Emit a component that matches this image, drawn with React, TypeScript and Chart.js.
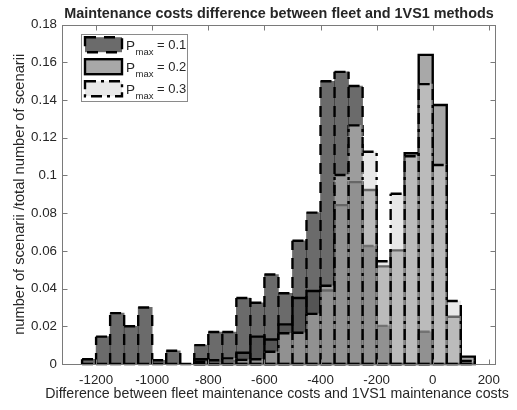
import React, { useEffect, useRef } from 'react';
import { Chart, registerables } from 'chart.js';

Chart.register(...registerables);

const FONT = "'Liberation Sans', Arial, Helvetica, sans-serif";
const TEXT = '#262626';

// Histogram bin centres (bin width 50)
const binCenters = [
  -1225, -1175, -1125, -1075, -1025, -975, -925, -875, -825, -775,
  -725, -675, -625, -575, -525, -475, -425, -375, -325, -275,
  -225, -175, -125, -75, -25, 25, 75, 125,
];

// Relative frequencies (null = no bar)
const pmax01 = [
  0.0025, 0.0145, 0.027, 0.02, 0.03, 0.002, 0.007, 0, 0.01, 0.017,
  0.017, 0.035, 0.0325, 0.0475, 0.0375, 0.0654, 0.0803, 0.15, 0.155, 0.1475,
  0.0626, 0.0202, 0, 0, 0.0171, null, null, null,
];
const pmax02 = [
  null, null, null, null, null, null, null, null, 0.0025, 0.0015,
  0.0015, 0.006, 0.0145, 0.013, 0.021, 0.035, 0.0387, 0.039, 0.0843, 0.0965,
  0.0923, 0.0518, 0.0603, 0.1118, 0.164, 0.1374, 0.0251, 0.0039,
];
const pmax03 = [
  null, null, null, null, null, null, null, null, 0.0012, 0.002,
  0.003, 0.0022, 0.0025, 0.0065, 0.0163, 0.0166, 0.0266, 0.0415, 0.1003, 0.1266,
  0.1126, 0.0545, 0.0903, 0.1102, 0.1485, 0.1056, 0.0334, 0.0016,
];

const seriesValues = ['0.1', '0.2', '0.3'];
const seriesData = [pmax01, pmax02, pmax03];

const TITLE = 'Maintenance costs difference between fleet and 1VS1 methods';
const X_TITLE = 'Difference between fleet maintenance costs and 1VS1 maintenance costs';
const Y_TITLE = 'number of scenarii /total number of scenarii';

const styles = [
  { fill: 'rgba(0,0,0,0.58)', dash: [11, 8], order: 3 },
  { fill: 'rgba(58,58,58,0.44)', dash: [] as number[], order: 2 },
  { fill: 'rgba(208,208,208,0.49)', dash: [11, 5, 3, 5], order: 1 },
];

const LINE_W = 2.4;

const outlinePlugin = {
  id: 'barOutline',
  afterDatasetDraw(chart: any, args: any) {
    const ds = chart.data.datasets[args.index];
    const { ctx, chartArea: a } = chart;
    const dash: number[] = ds.dashPattern || [];
    ctx.save();
    ctx.beginPath();
    ctx.rect(a.left, a.top - 3, a.right - a.left, a.bottom - a.top + 6);
    ctx.clip();
    ctx.strokeStyle = '#000';
    ctx.lineWidth = LINE_W;
    ctx.setLineDash(dash);
    ctx.beginPath();
    for (const el of args.meta.data) {
      const { x, y, base, width } = el.getProps(['x', 'y', 'base', 'width'], true);
      const l = x - width / 2;
      const r = x + width / 2;
      if (dash.length === 0) {
        ctx.rect(l, y, r - l, base - y);
      } else {
        ctx.moveTo(l, base); ctx.lineTo(l, y);
        ctx.moveTo(r, base); ctx.lineTo(r, y);
        ctx.moveTo(l, y); ctx.lineTo(r, y);
        ctx.moveTo(l, base); ctx.lineTo(r, base);
      }
    }
    ctx.stroke();
    ctx.restore();
  },
};

const axesPlugin = {
  id: 'matlabAxes',
  afterDatasetsDraw(chart: any) {
    const { ctx, chartArea: a, scales } = chart;
    ctx.save();
    ctx.setLineDash([]);
    ctx.strokeStyle = '#7a7a7a';
    ctx.lineWidth = 1;
    const L = Math.round(a.left) - 0.5;
    const R = Math.round(a.right) + 0.5;
    const T = Math.round(a.top) + 0.5;
    const B = Math.round(a.bottom) + 0.5;
    ctx.strokeRect(L, T, R - L, B - T);
    ctx.beginPath();
    const tl = 5;
    for (const t of scales.x.ticks) {
      const px = Math.round(scales.x.getPixelForValue(t.value)) + 0.5;
      ctx.moveTo(px, B); ctx.lineTo(px, B - tl);
      ctx.moveTo(px, T); ctx.lineTo(px, T + tl);
    }
    for (const t of scales.y.ticks) {
      const py = Math.round(scales.y.getPixelForValue(t.value)) + 0.5;
      ctx.moveTo(L, py); ctx.lineTo(L + tl, py);
      ctx.moveTo(R, py); ctx.lineTo(R - tl, py);
    }
    ctx.stroke();

    // titles (drawn without width compression)
    const cx = (a.left + a.right) / 2;
    ctx.fillStyle = TEXT;
    ctx.textAlign = 'center';
    ctx.textBaseline = 'alphabetic';
    ctx.font = `bold 14.4px ${FONT}`;
    ctx.fillText(TITLE, cx, 17.5);
    ctx.font = `14.2px ${FONT}`;
    ctx.fillText(X_TITLE, cx - 2, 398);
    ctx.restore();
  },
};

const legendPlugin = {
  id: 'matlabLegend',
  afterDraw(chart: any) {
    const { ctx, chartArea: a } = chart;
    const bx = a.left + 18;
    const by = a.top + 9;
    const bw = 106;
    const bh = 67;
    ctx.save();
    ctx.setLineDash([]);
    ctx.fillStyle = '#ffffff';
    ctx.fillRect(bx, by, bw, bh);
    ctx.strokeStyle = '#8a8a8a';
    ctx.lineWidth = 1;
    ctx.strokeRect(Math.round(bx) + 0.5, Math.round(by) + 0.5, bw, bh);
    for (let i = 0; i < 3; i++) {
      const cy = by + 11 + i * 22;
      const px = bx + 4;
      const pw = 37;
      const ph = 15;
      ctx.fillStyle = styles[i].fill;
      ctx.fillRect(px, cy - ph / 2, pw, ph);
      ctx.strokeStyle = '#000';
      ctx.lineWidth = LINE_W;
      ctx.setLineDash(styles[i].dash);
      ctx.strokeRect(px, cy - ph / 2, pw, ph);
      ctx.setLineDash([]);
      ctx.fillStyle = TEXT;
      ctx.textBaseline = 'alphabetic';
      ctx.textAlign = 'left';
      ctx.font = `13.5px ${FONT}`;
      const tx = px + pw + 4;
      ctx.fillText('P', tx, cy + 5);
      const pW = ctx.measureText('P').width;
      ctx.font = `9.5px ${FONT}`;
      ctx.fillText('max', tx + pW + 0.5, cy + 10);
      const mW = ctx.measureText('max').width;
      ctx.font = `13px ${FONT}`;
      ctx.fillText(' = ' + seriesValues[i], tx + pW + mW + 0.5, cy + 4.5);
    }
    ctx.restore();
  },
};

export default function App() {
  const ref = useRef<HTMLCanvasElement | null>(null);

  useEffect(() => {
    document.body.style.margin = '0';
    if (!ref.current) return;
    const datasets = seriesData.map((vals, i) => ({
      label: 'Pmax = ' + seriesValues[i],
      data: binCenters
        .map((x, k) => (vals[k] === null ? null : { x, y: vals[k] as number }))
        .filter((d) => d !== null),
      backgroundColor: styles[i].fill,
      borderWidth: 0,
      grouped: false,
      barPercentage: 1,
      categoryPercentage: 1,
      order: styles[i].order,
      dashPattern: styles[i].dash,
    }));

    const chart = new Chart(ref.current, {
      type: 'bar',
      data: { datasets } as any,
      options: {
        responsive: false,
        animation: false,
        devicePixelRatio: 1,
        layout: { padding: { left: 0, right: 22, top: 24.7, bottom: 0 } },
        plugins: {
          legend: { display: false },
          tooltip: { enabled: false },
          title: { display: false },
        },
        scales: {
          x: {
            type: 'linear',
            min: -1318,
            max: 222,
            offset: false,
            grid: { display: false, drawTicks: false },
            border: { display: false },
            ticks: {
              stepSize: 200,
              includeBounds: false,
              color: TEXT,
              font: { family: FONT, size: 13.33 },
              padding: 8,
              maxRotation: 0,
              autoSkip: false,
              callback: (v: any) => String(Number(v)),
            },
            title: { display: false },
            afterFit: (s: any) => { s.height = 46; },
          },
          y: {
            type: 'linear',
            min: 0,
            max: 0.18,
            grid: { display: false, drawTicks: false },
            border: { display: false },
            ticks: {
              stepSize: 0.02,
              color: TEXT,
              font: { family: FONT, size: 13.33 },
              padding: 6,
              callback: (v: any) => String(Number(Number(v).toFixed(2))),
            },
            title: {
              display: true,
              text: Y_TITLE,
              color: TEXT,
              font: { family: FONT, size: 14.67 },
              padding: { top: 11, bottom: 0 },
            },
            afterFit: (s: any) => { s.width = 63; },
          },
        },
      } as any,
      plugins: [outlinePlugin, axesPlugin, legendPlugin],
    });
    return () => chart.destroy();
  }, []);

  return (
    <div style={{ position: 'absolute', left: 0, top: 0, width: 517, height: 410 }}>
      <canvas ref={ref} width={517} height={410} style={{ width: 517, height: 410 }} />
    </div>
  );
}
